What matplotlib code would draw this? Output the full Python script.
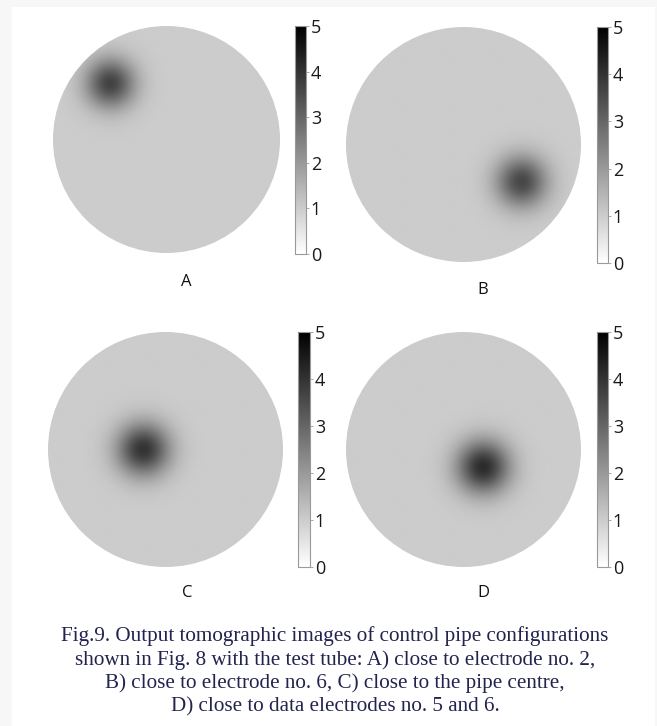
import numpy as np
import matplotlib
matplotlib.use("Agg")
import matplotlib.pyplot as plt
from matplotlib.patches import Rectangle, Circle

plt.rcParams["font.family"] = ["Open Sans", "DejaVu Sans"]
plt.rcParams["ytick.labelsize"] = 13

# ---- data ----
panels = ["A", "B", "C", "D"]
blob_x = [-0.50, 0.50, -0.19, 0.17]      # normalized position of test tube
blob_y = [0.50, -0.32, 0.00, -0.15]
blob_peak = [2.7, 2.6, 3.0, 3.15]        # value above background
blob_sigma = [0.155, 0.155, 0.16, 0.16]
background = [1.0, 1.0, 1.0, 1.0]
cbar_ticks = [0, 1, 2, 3, 4, 5]
caption = ["Fig.9. Output tomographic images of control pipe configurations",
           "shown in Fig. 8 with the test tube: A) close to electrode no. 2,",
           "B) close to electrode no. 6, C) close to the pipe centre,",
           "D) close to data electrodes no. 5 and 6."]

W, H = 657, 726
fig = plt.figure(figsize=(W / 100, H / 100), dpi=100, facecolor="#f7f7f7")
fig.patches.append(Rectangle((12 / W, 0), (655 - 12) / W, (H - 7) / H,
                             transform=fig.transFigure, facecolor="white",
                             edgecolor="none", zorder=-10))

def fx(px): return px / W
def fy(py): return 1 - py / H

# pixel boxes: (x0, y0, x1, y1) for image and colorbar
img_boxes = [(53, 26, 280, 253), (346, 27, 581, 262), (48, 332, 283, 567), (346, 332, 581, 567)]
cb_boxes = [(295, 26, 306, 254), (597, 27, 608, 263), (298, 332, 310, 567), (597, 332, 608, 567)]
lab_pos = [(186, 282), (483, 290), (187, 593), (483, 593)]

n = 90
g = np.linspace(-1, 1, n)
X, Y = np.meshgrid(g, g[::-1])

for i in range(4):
    Z = background[i] + blob_peak[i] * np.exp(-((X - blob_x[i]) ** 2 + (Y - blob_y[i]) ** 2) / (2 * blob_sigma[i] ** 2))
    x0, y0, x1, y1 = img_boxes[i]
    ax = fig.add_axes([fx(x0), fy(y1), fx(x1 - x0), (y1 - y0) / H])
    ax.patch.set_alpha(0)
    im = ax.imshow(Z, cmap="gray_r", vmin=0, vmax=5, extent=[-1, 1, -1, 1],
                   interpolation="bilinear")
    clip = Circle((0, 0), 1.0, transform=ax.transData)
    im.set_clip_path(clip)
    ax.set_xlim(-1, 1)
    ax.set_ylim(-1, 1)
    ax.set_axis_off()
    c0, cy0, c1, cy1 = cb_boxes[i]
    cax = fig.add_axes([fx(c0), fy(cy1), fx(c1 - c0), (cy1 - cy0) / H])
    cb = fig.colorbar(im, cax=cax, ticks=cbar_ticks)
    cb.outline.set_edgecolor("#999999")
    cb.outline.set_linewidth(0.8)
    cax.tick_params(length=2.5, width=0.6, color="#999999", pad=1,
                    labelsize=13, labelcolor="#1a1a1a")
    lx, ly = lab_pos[i]
    fig.text(fx(lx), fy(ly), panels[i], ha="center", va="center",
             fontsize=12, color="#111111")

cap_y = [636, 660, 683, 707]
for line, yy in zip(caption, cap_y):
    fig.text(fx(335), fy(yy), line, ha="center", va="center",
             fontsize=15.2, family="Liberation Serif", color="#23234f")

fig.savefig("out.png", dpi=100, facecolor=fig.get_facecolor())
